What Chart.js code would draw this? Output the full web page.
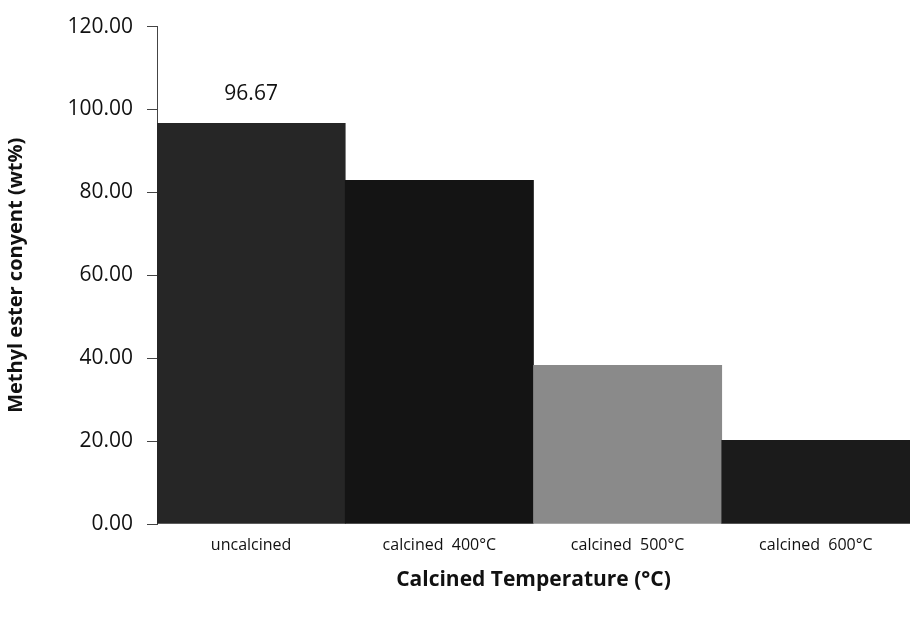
<!DOCTYPE html>
<html lang="en">
<head>
    <meta charset="UTF-8">
    <title>Methyl ester content</title>
    <script src="https://cdn.jsdelivr.net/npm/chart.js"></script>
    <style>
        body { margin: 0; background: #fff; }
        #wrap { width: 910px; height: 619px; }
    </style>
</head>
<body>
    <div id="wrap"><canvas id="chart"></canvas></div>
    <script>
        // data
        const categories = ['uncalcined', 'calcined  400\u00b0C', 'calcined  500\u00b0C', 'calcined  600\u00b0C'];
        const esterContent = [96.67, 82.9, 38.3, 20.2];
        const barColors = ['#262626', '#141414', '#8a8a8a', '#1b1b1b'];
        const shownLabels = ['96.67', '', '', ''];

        const font = "'Open Sans', Lato, sans-serif";

        // value label drawn above a bar
        const valueLabels = {
            id: 'valueLabels',
            afterDatasetsDraw(chart) {
                const ctx = chart.ctx;
                const meta = chart.getDatasetMeta(0);
                ctx.save();
                ctx.font = '21px ' + font;
                ctx.fillStyle = '#111';
                ctx.textAlign = 'center';
                ctx.textBaseline = 'middle';
                meta.data.forEach((bar, i) => {
                    if (shownLabels[i]) ctx.fillText(shownLabels[i], bar.x, bar.y - 29);
                });
                ctx.restore();
            }
        };

        new Chart(document.getElementById('chart'), {
            type: 'bar',
            data: {
                labels: categories,
                datasets: [{
                    data: esterContent,
                    backgroundColor: barColors,
                    borderWidth: 0,
                    barPercentage: 1,
                    categoryPercentage: 1
                }]
            },
            options: {
                responsive: true,
                maintainAspectRatio: false,
                animation: false,
                layout: { padding: { top: 26, right: 0, left: 0, bottom: 0 } },
                plugins: {
                    legend: { display: false },
                    tooltip: { enabled: false }
                },
                scales: {
                    x: {
                        grid: { display: false, drawTicks: false },
                        border: { display: false },
                        ticks: { color: '#111', font: { family: font, size: 16 }, padding: 12, maxRotation: 0 },
                        title: {
                            display: true,
                            text: 'Calcined Temperature (\u00b0C)',
                            color: '#111',
                            font: { family: font, size: 21, weight: 'bold' },
                            padding: { top: 4, bottom: 26 }
                        },
                        afterFit(scale) { scale.height = 95; }
                    },
                    y: {
                        min: 0,
                        max: 120,
                        grid: { display: true, drawOnChartArea: false, drawTicks: true, tickLength: 10, color: '#444' },
                        border: { display: true, color: '#444', width: 1 },
                        ticks: {
                            stepSize: 20,
                            color: '#111',
                            font: { family: font, size: 21 },
                            padding: 14,
                            callback: v => v.toFixed(2)
                        },
                        title: {
                            display: true,
                            text: 'Methyl ester conyent (wt%)',
                            color: '#111',
                            font: { family: font, size: 20, weight: 'bold' },
                            padding: { bottom: 6 }
                        },
                        afterFit(scale) { scale.width = 157; }
                    }
                }
            },
            plugins: [valueLabels]
        });
    </script>
</body>
</html>
